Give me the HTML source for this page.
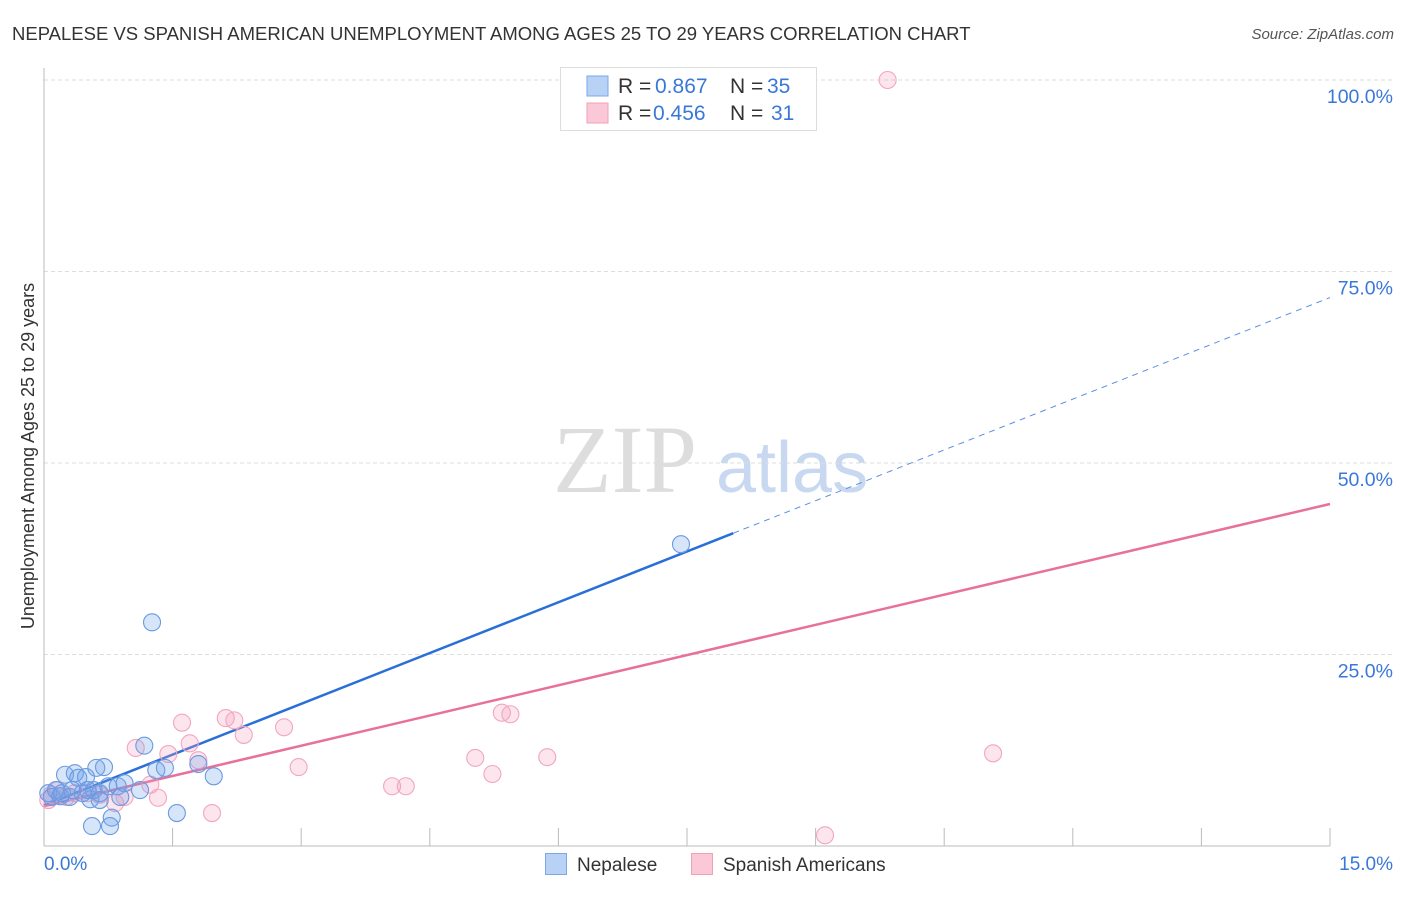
<!DOCTYPE html>
<html><head><meta charset="utf-8"><style>
body{margin:0;background:#fff;font-family:"Liberation Sans",sans-serif}
svg text{font-family:"Liberation Sans",sans-serif}
</style></head><body>
<svg id="chart" width="1406" height="892" xmlns="http://www.w3.org/2000/svg">
<text x="12" y="40" font-size="18.5" fill="#333">NEPALESE VS SPANISH AMERICAN UNEMPLOYMENT AMONG AGES 25 TO 29 YEARS CORRELATION CHART</text>
<text x="1394" y="39" font-size="15" fill="#555" font-style="italic" text-anchor="end">Source: ZipAtlas.com</text>
<g>
<text x="553" y="492" font-size="96" fill="#ddd" style="font-family:'Liberation Serif',serif">ZIP</text>
<text x="716" y="492" font-size="72" fill="#c8d8f0">atlas</text>
</g>
<g id="grid"></g>
<g id="axes"></g>
<g id="lines"></g>
<g id="pts"></g>
<g>
<rect x="560.5" y="67.5" width="256" height="63" fill="#fff" stroke="#ddd"/>
<rect x="587" y="76" width="21" height="20" fill="#b8d2f5" stroke="#7aa8e8"/>
<rect x="587" y="103" width="21" height="20" fill="#fbc8d8" stroke="#f0a0b8"/>
<text x="618" y="93" font-size="21" fill="#333">R = <tspan x="655" fill="#3a78d8">0.867</tspan><tspan x="730">N = </tspan><tspan fill="#3a78d8" x="767">35</tspan></text>
<text x="618" y="120" font-size="21" fill="#333">R = <tspan x="653" fill="#3a78d8">0.456</tspan><tspan x="730">N = </tspan><tspan fill="#3a78d8" x="771">31</tspan></text>
</g>
<g>
<rect x="545.5" y="853.5" width="21" height="21" fill="#b8d2f5" stroke="#7aa8e8"/>
<text x="577" y="871" font-size="19" fill="#333">Nepalese</text>
<rect x="691.5" y="853.5" width="21" height="21" fill="#fbc8d8" stroke="#f0a0b8"/>
<text x="723" y="871" font-size="19" fill="#333">Spanish Americans</text>
</g>
<text transform="translate(34,456) rotate(-90)" font-size="18" fill="#333" text-anchor="middle">Unemployment Among Ages 25 to 29 years</text>
</svg>
<script>
const yTicks=[25,50,75,100];
const yTickLabels=["25.0%","50.0%","75.0%","100.0%"];
const xTickLabels=["0.0%","15.0%"];
const blueX=[0.05,0.09,0.14,0.19,0.245,0.30,0.36,0.40,0.45,0.49,0.54,0.58,0.61,0.65,0.70,0.75,0.79,0.56,0.77,0.86,0.94,1.12,1.17,1.26,1.31,1.41,1.55,1.80,1.98,7.43,0.21,0.33,0.51,0.65,0.89];
const blueY=[6.9,6.4,7.3,6.5,9.3,6.4,9.5,8.9,6.9,9.0,6.1,7.3,10.2,6.9,10.3,7.8,3.7,2.6,2.6,7.8,8.2,7.3,13.1,29.2,9.9,10.2,4.3,10.7,9.1,39.4,6.9,7.3,7.3,6.0,6.4];
const pinkX=[0.05,0.09,0.16,0.26,0.36,0.51,0.65,0.83,0.94,1.07,1.24,1.33,1.45,1.61,1.70,1.80,1.96,2.12,2.22,2.33,2.80,2.97,4.06,4.22,5.03,5.23,5.34,5.44,5.87,9.11,9.84,11.07];
const pinkY=[6.0,6.7,7.3,6.4,6.9,6.9,6.7,5.6,6.4,12.8,8.0,6.3,12.0,16.1,13.4,11.2,4.3,16.7,16.4,14.5,15.5,10.3,7.8,7.8,11.5,9.4,17.4,17.2,11.6,1.4,100,12.1];
const blueTrend=[5.3,4.42]; // intercept, slope
const pinkTrend=[5.2,2.63];
const blueSolidEnd=8.04;
const X0=44,X1=1330,Y0=846,Y100=80;
const sx=v=>X0+v/15*(X1-X0);
const sy=v=>Y0-v/100*(Y0-Y100);
const NS="http://www.w3.org/2000/svg";
function mk(tag,attrs,parent){const e=document.createElementNS(NS,tag);for(const k in attrs)e.setAttribute(k,attrs[k]);parent.appendChild(e);return e;}
const grid=document.getElementById('grid'),axes=document.getElementById('axes'),lines=document.getElementById('lines'),pts=document.getElementById('pts');
yTicks.forEach((t,i)=>{
 const l=mk('line',{x1:X0,x2:1394,y1:sy(t),y2:sy(t),stroke:'#ddd','stroke-dasharray':'4,3'},grid);
 
 
 const tx=mk('text',{x:1393,y:sy(t)+23,'font-size':19.5,fill:'#3a78d8','text-anchor':'end'},axes);
 tx.textContent=yTickLabels[i];
 
 
});
mk('line',{x1:X0,x2:X0,y1:68,y2:Y0,stroke:'#bbb'},axes);
mk('line',{x1:X0,x2:X1,y1:Y0,y2:Y0,stroke:'#bbb'},axes);
for(let i=0;i<=10;i++){const x=sx(i*1.5);mk('line',{x1:x,x2:x,y1:Y0,y2:828,stroke:'#bbb'},axes);}
const xl0=mk('text',{x:44,y:870,'font-size':19,fill:'#3a78d8'},axes);xl0.textContent=xTickLabels[0];


const xl1=mk('text',{x:1393,y:870,'font-size':19,fill:'#3a78d8','text-anchor':'end'},axes);xl1.textContent=xTickLabels[1];


function pt(x,y,fill,stroke,name){const c=mk('circle',{cx:sx(x),cy:sy(y),r:8.5,fill:fill,stroke:stroke,'stroke-width':1.1},pts);
 
 }
pinkX.forEach((x,i)=>pt(x,pinkY[i],'rgba(245,160,190,0.28)','#f2a6bf','spanish-american-point'));
blueX.forEach((x,i)=>pt(x,blueY[i],'rgba(110,160,235,0.28)','#6a9ae2','nepalese-point'));
const tb=v=>blueTrend[0]+blueTrend[1]*v, tp=v=>pinkTrend[0]+pinkTrend[1]*v;
const bl=mk('line',{x1:sx(0),y1:sy(tb(0)),x2:sx(blueSolidEnd),y2:sy(tb(blueSolidEnd)),stroke:'#2a6fd8','stroke-width':2.5},lines);


const bd=mk('line',{x1:sx(blueSolidEnd),y1:sy(tb(blueSolidEnd)),x2:sx(15),y2:sy(tb(15)),stroke:'#5a90e0','stroke-width':1,'stroke-dasharray':'6,5'},lines);


const pl=mk('line',{x1:sx(0),y1:sy(tp(0)),x2:sx(15),y2:sy(tp(15)),stroke:'#e8709a','stroke-width':2.5},lines);


</script>
</body></html>
